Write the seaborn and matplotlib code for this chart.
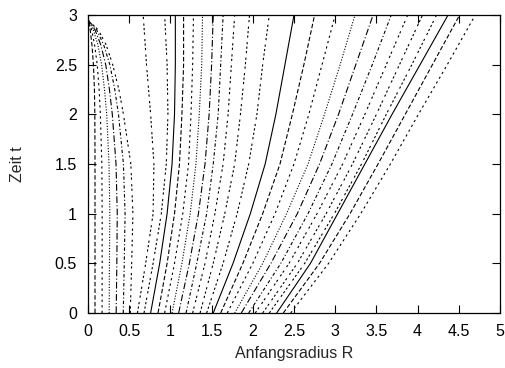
import numpy as np
import pandas as pd
import matplotlib
matplotlib.use("Agg")
import matplotlib.pyplot as plt
import seaborn as sns

# Time samples (Zeit t) for the collapsing inner shells and for the outer shells
t_inner = [0.0, 0.5, 1.0, 1.5, 2.0, 2.25, 2.5, 2.7, 2.85, 2.95]
t_outer = [0.0, 0.5, 1.0, 1.5, 2.0, 2.5, 3.0]

# Radius of each shell at the sample times; level index k = 1 .. 29
inner_curves = {
    1: [0.085, 0.085, 0.085, 0.085, 0.083, 0.078, 0.066, 0.048, 0.027, 0.0],
    2: [0.171, 0.172, 0.172, 0.168, 0.150, 0.135, 0.112, 0.080, 0.045, 0.0],
    3: [0.257, 0.260, 0.265, 0.255, 0.227, 0.200, 0.165, 0.120, 0.065, 0.0],
    4: [0.342, 0.350, 0.355, 0.340, 0.295, 0.260, 0.215, 0.155, 0.085, 0.0],
    5: [0.428, 0.440, 0.450, 0.430, 0.370, 0.325, 0.265, 0.190, 0.105, 0.0],
    6: [0.513, 0.530, 0.545, 0.520, 0.430, 0.375, 0.300, 0.220, 0.125, 0.0],
}
outer_curves = {
    7:  [0.60, 0.70, 0.79, 0.80, 0.76, 0.71, 0.67],
    8:  [0.68, 0.79, 0.89, 0.95, 0.97, 0.96, 0.93],
    9:  [0.76, 0.87, 0.96, 1.02, 1.05, 1.06, 1.06],
    10: [0.85, 0.96, 1.05, 1.11, 1.14, 1.16, 1.16],
    11: [0.93, 1.05, 1.15, 1.22, 1.25, 1.27, 1.28],
    12: [1.02, 1.14, 1.24, 1.31, 1.35, 1.38, 1.39],
    13: [1.10, 1.23, 1.34, 1.42, 1.47, 1.50, 1.52],
    14: [1.19, 1.32, 1.44, 1.52, 1.58, 1.61, 1.64],
    15: [1.27, 1.42, 1.54, 1.64, 1.70, 1.74, 1.78],
    16: [1.36, 1.52, 1.66, 1.78, 1.85, 1.91, 1.96],
    17: [1.44, 1.64, 1.81, 1.95, 2.05, 2.12, 2.20],
    18: [1.52, 1.76, 1.97, 2.15, 2.28, 2.39, 2.50],
    19: [1.61, 1.88, 2.12, 2.33, 2.48, 2.62, 2.75],
    20: [1.69, 2.00, 2.27, 2.50, 2.68, 2.84, 3.00],
    21: [1.78, 2.12, 2.41, 2.67, 2.87, 3.06, 3.24],
    22: [1.86, 2.22, 2.54, 2.81, 3.04, 3.25, 3.46],
    23: [1.95, 2.34, 2.67, 2.96, 3.21, 3.45, 3.68],
    24: [2.03, 2.44, 2.78, 3.09, 3.36, 3.62, 3.88],
    25: [2.12, 2.54, 2.89, 3.21, 3.50, 3.78, 4.06],
    26: [2.20, 2.63, 2.99, 3.32, 3.62, 3.93, 4.23],
    27: [2.29, 2.70, 3.03, 3.36, 3.69, 4.03, 4.37],
    28: [2.37, 2.81, 3.18, 3.52, 3.85, 4.18, 4.51],
    29: [2.46, 2.92, 3.31, 3.67, 4.01, 4.36, 4.70],
}

x_ticks = [0, 0.5, 1, 1.5, 2, 2.5, 3, 3.5, 4, 4.5, 5]
y_ticks = [0, 0.5, 1, 1.5, 2, 2.5, 3]

# Long-form table: one row per sample point
rows = []
for k, rs in inner_curves.items():
    for i, (r, t) in enumerate(zip(rs, t_inner)):
        rows.append({"R": r, "t": t, "level": k, "order": i})
for k, rs in outer_curves.items():
    for i, (r, t) in enumerate(zip(rs, t_outer)):
        rows.append({"R": r, "t": t, "level": k, "order": i})
df = pd.DataFrame(rows)

# Nine repeating dash patterns (solid, dashed, short dashed, dotted, dash-dot ...)
s = 0.8
patterns = [
    "",
    (4 * s, 2 * s),
    (2 * s, 3 * s),
    (1 * s, 1.5 * s),
    (6 * s, 2 * s, 1 * s, 2 * s),
    (3 * s, 2 * s, 1 * s, 2 * s),
    (2 * s, 2 * s, 2 * s, 4 * s),
    (2 * s, 2 * s, 2 * s, 2 * s, 2 * s, 4 * s),
    (2 * s, 2 * s, 2 * s, 2 * s, 2 * s, 2 * s, 2 * s, 4 * s),
]
dash_map = {k: patterns[k % 9] for k in df["level"].unique()}

sns.set_theme(style="ticks")
plt.rcParams["font.family"] = ["Liberation Sans", "DejaVu Sans"]
plt.rcParams["lines.scale_dashes"] = False

fig = plt.figure(figsize=(5.05, 3.68), dpi=100)
ax = fig.add_axes([88 / 505, 1 - 313 / 368, 412 / 505, 298 / 368])

sns.lineplot(
    data=df, x="R", y="t", style="level", dashes=dash_map,
    units="level", estimator=None, sort=False, color="black",
    linewidth=0.8, legend=False, ax=ax,
)

ax.set_xlim(0, 5)
ax.set_ylim(0, 3)
ax.set_xticks(x_ticks)
ax.set_yticks(y_ticks)
ax.set_xticklabels([f"{v:g}" for v in x_ticks])
ax.set_yticklabels([f"{v:g}" for v in y_ticks])
ax.tick_params(direction="in", length=6, width=0.8, top=True, right=True,
               labelsize=11.5, colors="black")
ax.tick_params(axis="x", pad=8)
ax.tick_params(axis="y", pad=8)
for sp in ax.spines.values():
    sp.set_visible(True)
    sp.set_linewidth(0.9)
    sp.set_color("black")

ax.set_xlabel("Anfangsradius R", fontsize=11.5, labelpad=5)
ax.set_ylabel("Zeit t", fontsize=11.5, labelpad=21)

fig.savefig("out.png", dpi=100)
